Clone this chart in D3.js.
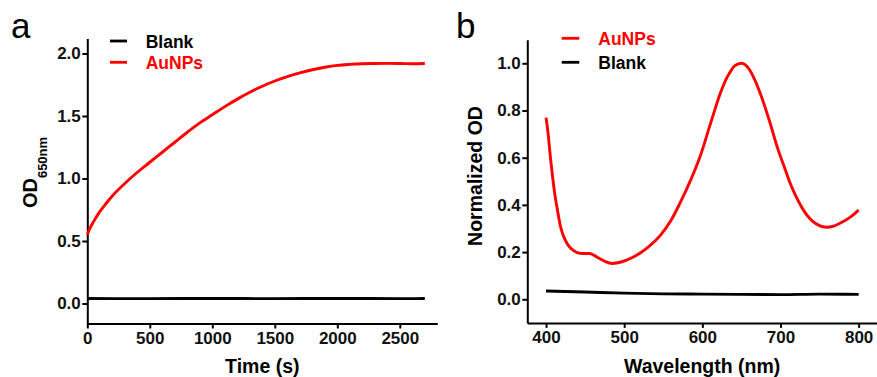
<!DOCTYPE html>
<html><head><meta charset="utf-8">
<script src="https://cdn.jsdelivr.net/npm/d3@7"></script>
<style>
body{margin:0;background:#fff;}
svg{display:block;font-family:"Liberation Sans",Arial,sans-serif;}
.tick text{font-weight:bold;font-size:17px;fill:#111;}
</style></head><body>
<svg id="c" width="877" height="377"></svg>
<script>
// ---------- Panel a data ----------
const timeA = [0,25,50,100,150,200,300,400,500,600,700,800,900,1000,1100,1200,1300,1400,1500,1600,1700,1800,1900,2000,2100,2200,2300,2400,2500,2600,2700];
const aunpsA = [0.55,0.61,0.655,0.735,0.80,0.86,0.96,1.05,1.13,1.21,1.29,1.37,1.445,1.51,1.575,1.635,1.69,1.738,1.78,1.815,1.845,1.87,1.89,1.905,1.913,1.918,1.92,1.921,1.92,1.918,1.92];
const blankTimeA = [0,500,1000,1500,2000,2500,2700];
const blankA = [0.04,0.039,0.04,0.039,0.04,0.039,0.04];
const xTicksA = [0,500,1000,1500,2000,2500];
const yTicksA = [0.0,0.5,1.0,1.5,2.0];

// ---------- Panel b data ----------
const wlB = [400,403,405,408,411,415,418,422,426,430,435,440,447,456,462,469,476,484,492,503,520,531,546,560,571,585,597,610,623,630,636,640,645,650,655,660,665,675,685,697,705,712,720,729,738,746,759,768,776,788,800];
const aunpsB = [0.77,0.69,0.62,0.53,0.45,0.37,0.315,0.27,0.242,0.222,0.207,0.198,0.194,0.194,0.185,0.172,0.16,0.152,0.155,0.166,0.195,0.222,0.27,0.335,0.405,0.505,0.604,0.74,0.873,0.93,0.965,0.985,0.996,1.0,0.993,0.975,0.945,0.865,0.765,0.633,0.56,0.495,0.435,0.38,0.34,0.319,0.305,0.31,0.322,0.345,0.378];
const blankWlB = [400,450,500,550,600,650,700,750,800];
const blankB = [0.035,0.031,0.026,0.023,0.022,0.021,0.020,0.022,0.021];
const xTicksB = [400,500,600,700,800];
const yTicksB = [0.0,0.2,0.4,0.6,0.8,1.0];

const RED = "#ff0000", BLACK = "#000000";
const svg = d3.select("#c");

function panel(opt){
  const g = svg.append("g");
  const x = d3.scaleLinear().domain(opt.xDom).range(opt.xRange);
  const y = d3.scaleLinear().domain(opt.yDom).range(opt.yRange);
  const xa = g.append("g").attr("transform",`translate(0,${opt.yRange[0]})`)
    .call(d3.axisBottom(x).tickValues(opt.xTicks).tickSize(5).tickSizeOuter(0).tickPadding(3.5).tickFormat(d3.format("d")));
  const ya = g.append("g").attr("transform",`translate(${opt.xRange[0]},0)`)
    .call(d3.axisLeft(y).tickValues(opt.yTicks).tickSize(5).tickSizeOuter(0).tickPadding(1.5).tickFormat(d3.format(".1f")));
  [xa,ya].forEach(a=>{a.select(".domain").attr("stroke","#000").attr("stroke-width",2);
    a.selectAll(".tick line").attr("stroke","#000").attr("stroke-width",2);});
  const line = d3.line().x(d=>x(d[0])).y(d=>y(d[1])).curve(d3.curveMonotoneX);
  opt.series.forEach(s=>{
    g.append("path").datum(s.xs.map((v,i)=>[v,s.ys[i]]))
      .attr("d",line).attr("fill","none").attr("stroke",s.color).attr("stroke-width",2.9)
      .attr("stroke-linejoin","round");
  });
  // legend
  opt.legend.forEach(l=>{
    g.append("line").attr("x1",l.x1).attr("x2",l.x2).attr("y1",l.y).attr("y2",l.y)
      .attr("stroke",l.color).attr("stroke-width",2.8);
    g.append("text").attr("x",l.tx).attr("y",l.y+7).text(l.label)
      .attr("fill",l.color).attr("font-weight","bold").attr("font-size",17.5);
  });
  // x title
  g.append("text").attr("x",(opt.xRange[0]+opt.xRange[1])/2).attr("y",372.5)
    .attr("text-anchor","middle").attr("font-weight","bold").attr("font-size",19.5).text(opt.xTitle);
  // panel letter
  g.append("text").attr("x",opt.letterX).attr("y",38).attr("font-size",35).text(opt.letter);
  return g;
}

const ga = panel({
  xDom:[0,2800], xRange:[87.3,437.3], yDom:[-0.16,2.12], yRange:[323.5,38.5],
  xTicks:xTicksA, yTicks:yTicksA, xTitle:"Time (s)", letter:"a", letterX:11,
  series:[{xs:blankTimeA,ys:blankA,color:BLACK},{xs:timeA,ys:aunpsA,color:RED}],
  legend:[{x1:110,x2:127,y:41,tx:145.7,label:"Blank",color:BLACK},
          {x1:110,x2:127,y:62.3,tx:145.7,label:"AuNPs",color:RED}]
});
// y title a with subscript
const ta = ga.append("text").attr("transform","translate(36.7,172.5) rotate(-90)")
  .attr("text-anchor","middle").attr("font-weight","bold").attr("font-size",20);
ta.append("tspan").text("OD");
ta.append("tspan").attr("dy",10).attr("font-size",13).text("650nm");

const gb = panel({
  xDom:[376,823.5], xRange:[527.3,877], yDom:[-0.1,1.1], yRange:[322.9,39.7],
  xTicks:xTicksB, yTicks:yTicksB, xTitle:"Wavelength (nm)", letter:"b", letterX:456,
  series:[{xs:blankWlB,ys:blankB,color:BLACK},{xs:wlB,ys:aunpsB,color:RED}],
  legend:[{x1:561.7,x2:579.3,y:38.3,tx:598.3,label:"AuNPs",color:RED},
          {x1:561.7,x2:579.3,y:62.3,tx:598.3,label:"Blank",color:BLACK}]
});
gb.append("text").attr("transform","translate(481.7,176) rotate(-90)")
  .attr("text-anchor","middle").attr("font-weight","bold").attr("font-size",19.5).text("Normalized OD");
</script></body></html>
